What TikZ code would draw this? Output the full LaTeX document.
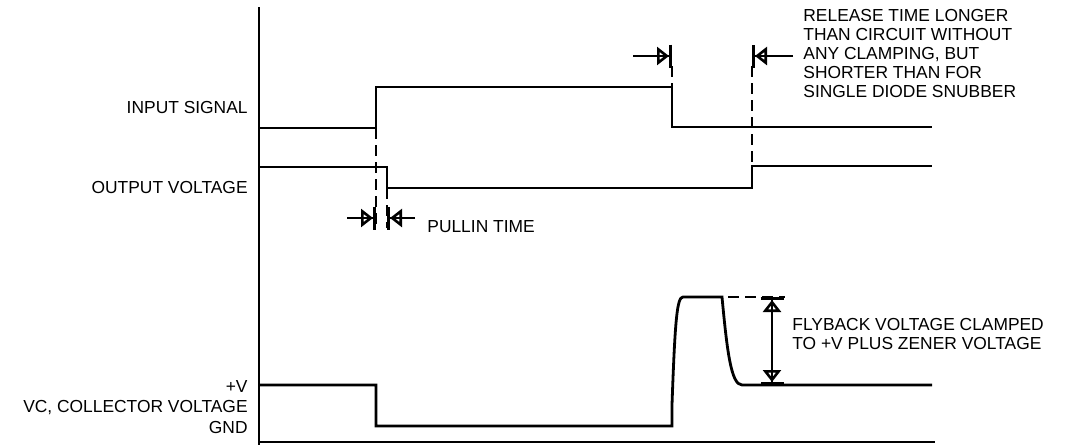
\documentclass[tikz,border=0pt]{standalone}
\usepackage{fontspec}
\setmainfont{Liberation Sans}
\usetikzlibrary{arrows.meta,calc}
\tikzset{
  sig/.style={line width=1.4pt,line join=miter},
  gd/.style={line width=1.1pt,dash pattern=on 5.5pt off 3pt},
  tmtip/.tip={Triangle[open,length=6pt,width=9pt,line width=1.3pt,sep=0pt]Bar[width=11.5pt,line width=1.5pt]},
  tm/.style={-tmtip,line width=1.1pt},
  lbl/.style={font=\fontsize{8.7}{9.5}\selectfont,inner sep=0pt,align=left}
}
\begin{document}
\begin{tikzpicture}[x=0.5pt,y=-0.5pt]
\useasboundingbox (0,0) rectangle (1066,445);
% axis and ground
\draw[sig,line width=1.2pt] (259,7) -- (259,445);
\draw[sig,line width=1.2pt] (259,442) -- (935,442);
% waveforms
\draw[sig] (259,128) -| (376,87) -| (672,127) -- (932,127);
\draw[sig] (259,167) -| (387,188) -| (752,166) -- (932,166);
\draw[sig] (259,385) -| (376,426) -- (672,426) -- (672,405)
  .. controls (675,320) and (677,297) .. (683,297) -- (722,297)
  .. controls (727,350) and (731,385) .. (742,385) -- (932,385);
% guides
\draw[gd] (376,128) -- (376,228);
\draw[gd] (387,188) -- (387,228);
\draw[gd] (672,66) -- (672,87);
\draw[gd] (752,66) -- (752,166);
\draw[gd] (728,297) -- (785,297);
% timing marks
\foreach \i/\a/\b in {1/{347,218}/{376,218},2/{415,218}/{387,218},
  3/{633,56}/{672,56},4/{793,56}/{752,56}}{
  \coordinate (a\i) at (\a);
  \coordinate (b\i) at (\b);
  \draw[tm] (a\i) -- (b\i);
}
\coordinate (fbt) at (772,297);
\coordinate (fbb) at (772,385);
\draw[tm,tmtip-tmtip] (fbt) -- (fbb);
% labels
\node[lbl,anchor=east] (in) at (248,108) {INPUT SIGNAL};
\node[lbl,anchor=east] (out) at (248,188) {OUTPUT VOLTAGE};
\node[lbl,anchor=east] (pv) at (248,387) {+V};
\node[lbl,anchor=east] (vc) at (248,408) {VC, COLLECTOR VOLTAGE};
\node[lbl,anchor=east] (gnd) at (248,428) {GND};
\node[lbl,anchor=west] (pull) at (427,227) {PULLIN TIME};
\node[lbl,anchor=west] (rel) at (803,54) {RELEASE TIME LONGER\\THAN CIRCUIT WITHOUT\\ANY CLAMPING, BUT\\SHORTER THAN FOR\\SINGLE DIODE SNUBBER};
\node[lbl,anchor=west] (fly) at (792,334) {FLYBACK VOLTAGE CLAMPED\\TO +V PLUS ZENER VOLTAGE};
\end{tikzpicture}
\end{document}
